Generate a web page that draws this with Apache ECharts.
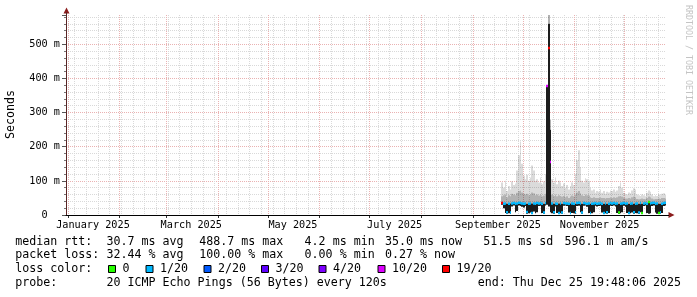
<!DOCTYPE html>
<html><head><meta charset="utf-8">
<script src="https://cdn.jsdelivr.net/npm/echarts@6/dist/echarts.min.js"></script>
<style>html,body{margin:0;padding:0;background:#fff}#c{width:697px;height:297px}</style>
</head><body><div id="c"></div>
<script>
// ---- data (one value per day, starting at firstDay) ----
const firstDay = '2025-09-18';
const minMs = [30,20,6,4,5,4,25,28,8,12,28,26,24,22,26,4,5,7,3,10,5,8,26,27,6,4,28,30,25,8,
  5,4,25,6,3,5,4,27,28,26,7,4,6,5,4,26,27,8,4,27,28,24,6,3,5,8,27,25,26,27,
  7,3,5,4,6,27,26,28,25,6,3,5,8,27,24,6,3,5,7,4,6,5,3,8,3,26,28,6,4,5,26,28,7,4,3,4,6,26,28];
const medianMs = [35,33,34,8,33,7,34,35,33,34,36,35,34,33,34,9,33,34,6,34,33,35,34,35,33,7,35,378,489,155,
  34,8,34,33,6,34,7,35,34,34,33,6,34,33,8,35,36,34,7,35,34,33,34,6,33,34,35,33,34,35,
  33,6,34,8,33,35,34,35,33,34,7,33,34,35,33,34,6,33,34,8,33,34,7,35,6,34,35,33,38,34,35,36,33,34,6,8,33,35,36];
const denseTopMs = [35,33,34,33,33,34,34,35,33,34,36,35,34,33,34,33,33,34,34,34,33,35,34,35,33,33,35,378,560,250,
  34,33,34,33,34,34,33,35,34,34,33,34,34,33,33,35,36,34,33,35,34,33,34,33,33,34,35,33,34,35,
  33,33,34,33,33,35,34,35,33,34,33,33,34,35,33,34,33,33,34,33,33,34,33,35,33,34,35,33,38,34,35,36,33,34,33,33,33,35,36];
const upperMs = [55,58,60,52,58,55,62,60,58,65,70,72,66,62,60,62,58,60,66,64,58,60,57,60,55,57,62,380,586,278,
  60,56,60,55,58,56,54,56,52,55,50,54,57,55,60,66,70,64,58,56,60,58,57,52,50,52,50,50,50,52,
  50,50,48,50,50,52,50,52,50,52,55,56,54,50,48,48,50,48,52,54,52,47,46,47,48,47,46,50,54,52,48,46,47,47,48,47,50,50,48];
const maxMs = [95,80,100,70,85,75,98,88,92,130,175,215,150,115,105,118,100,110,145,130,100,105,95,110,90,98,120,380,586,278,
  105,95,110,90,100,95,85,92,80,88,75,85,95,88,120,160,190,140,100,95,108,105,100,80,72,75,65,70,68,75,
  65,70,62,68,66,72,70,75,68,72,85,95,80,65,62,60,66,64,72,78,75,60,58,56,60,58,55,65,72,68,60,55,58,56,60,58,62,64,60];
const lossOf20 = [19,1,1,1,1,1,1,1,1,1,1,1,1,1,1,1,1,1,1,1,1,1,1,1,1,1,1,10,19,10,
  1,1,1,1,1,1,1,1,1,1,1,1,1,1,1,1,1,1,1,1,1,1,1,1,1,1,1,1,1,1,
  1,1,1,1,1,1,1,1,1,1,0,1,1,1,1,1,1,1,1,1,1,1,1,1,0,1,1,1,0,1,1,1,1,1,0,1,1,1,1];

const monthTickLabels = ['January 2025','March 2025','May 2025','July 2025','September 2025','November 2025'];
const lossLegendLabels = ['0','1/20','2/20','3/20','4/20','10/20','19/20'];
const lossLegendCounts = [0,1,2,3,4,10,19];
const lossLegendColors = ['#26ff00','#00b8ff','#0059ff','#5e00ff','#7e00ff','#dd00ff','#ff0000'];
const statsRtt = ['30.7 ms avg','488.7 ms max','4.2 ms min','35.0 ms now','51.5 ms sd','596.1 m am/s'];
const statsLoss = ['32.44 % avg','100.00 % max','0.00 % min','0.27 % now'];
const probeText = '20 ICMP Echo Pings (56 Bytes) every 120s';
const endText = 'end: Thu Dec 25 19:48:06 2025';
const yTitle = 'Seconds';

// ---- build ----
const DAY = 86400000;
const END = Date.UTC(2025,11,25,19,48,6);
const START = END - 360*DAY;
const t0 = Date.parse(firstDay + 'T12:00:00Z');
const smokeData = minMs.map((v,i)=>[t0+i*DAY, v, medianMs[i], denseTopMs[i], upperMs[i], maxMs[i], lossOf20[i]]);
function lossColor(n){ let c = lossLegendColors[0]; lossLegendCounts.forEach((k,j)=>{ if(n>=k) c=lossLegendColors[j]; }); return c; }

const weeks=[]; for(let t=Date.UTC(2025,0,5); t<=END; t+=7*DAY) weeks.push(t);
const months=[]; for(let m=0;m<12;m++) months.push(Date.UTC(2025,m,1));
const labelPos = monthTickLabels.map((s,i)=>Date.UTC(2025,i*2,16));

const MONO = '"DejaVu Sans Mono", monospace';
const LEG = '11.65px ' + MONO;
const minorGrid = {color:'#d9d9d9', type:[1,1], width:1};
const majorGrid = {color:'#eab2b2', type:[1,1], width:1};

const xBase = {type:'value', min:START, max:END, gridIndex:0, position:'bottom'};
const yBase = {type:'value', min:0, max:585.8, position:'left'};
const chart = echarts.init(document.getElementById('c'), null, {renderer:'canvas'});

const graphic = [];
function txt(x,y,s,extra){ graphic.push(Object.assign({type:'text', x:x, y:y, silent:true, style:{text:s, font:LEG, fill:'#000', textAlign:'left', textVerticalAlign:'middle', align:'left', verticalAlign:'middle'}}, extra||{})); }
const rowY=[241.8,255.3,268.9,282.5];
const statX=[106.5,199.2,304.6,384.9,483.2,564.5];
txt(15.2,rowY[0],'median rtt:');
statsRtt.forEach((s,i)=>txt(statX[i],rowY[0],s));
txt(15.2,rowY[1],'packet loss:');
statsLoss.forEach((s,i)=>txt(statX[i],rowY[1],s));
txt(15.2,rowY[2],'loss color:');
const boxX=[108.5,146,204,261.5,319,378,442.5];
lossLegendLabels.forEach((s,i)=>{
  graphic.push({type:'rect', silent:true, shape:{x:boxX[i], y:265.5, width:7, height:7}, style:{fill:lossLegendColors[i], stroke:'#000', lineWidth:1}});
  txt(boxX[i]+14,rowY[2],s);
});
txt(15.2,rowY[3],'probe:');
txt(106.5,rowY[3],probeText);
graphic.push({type:'text', x:681, y:rowY[3], silent:true, style:{text:endText, font:LEG, fill:'#000', textAlign:'right', align:'right', textVerticalAlign:'middle', verticalAlign:'middle'}});
// y-axis title
graphic.push({type:'text', x:11, y:114.5, rotation:Math.PI/2, silent:true, style:{text:yTitle, font:LEG, fill:'#000', textAlign:'center', align:'center', textVerticalAlign:'middle', verticalAlign:'middle'}});
// watermark
graphic.push({type:'text', x:688, y:5, rotation:-Math.PI/2, silent:true, style:{text:'RRDTOOL / TOBI OETIKER', font:'8.3px '+MONO, fill:'#c4c4c4', textAlign:'left', align:'left', textVerticalAlign:'middle', verticalAlign:'middle'}});
// axis arrows
graphic.push({type:'polygon', silent:true, z:10, shape:{points:[[63.5,13.5],[69.5,13.5],[66.5,7.5]]}, style:{fill:'#8b1c1c'}});
graphic.push({type:'polygon', silent:true, z:10, shape:{points:[[668.5,212],[668.5,218],[674.5,215]]}, style:{fill:'#8b1c1c'}});
graphic.push({type:'line', silent:true, z:10, shape:{x1:66.5,y1:15,x2:66.5,y2:12}, style:{stroke:'#5a2525', lineWidth:1}});
graphic.push({type:'line', silent:true, z:10, shape:{x1:666,y1:215.5,x2:669,y2:215.5}, style:{stroke:'#000', lineWidth:1}});

const option = {
  backgroundColor:'#fff',
  animation:false,
  grid:{left:66, top:15, width:600, height:200, containLabel:false, outerBoundsMode:'none'},
  xAxis:[
    Object.assign({}, xBase, {axisLine:{show:false}, axisTick:{show:false, customValues:weeks}, axisLabel:{show:false}, splitLine:{show:true, lineStyle:minorGrid}}),
    Object.assign({}, xBase, {axisLine:{show:false}, axisTick:{show:true, length:3, customValues:months, lineStyle:{color:'#333'}}, axisLabel:{show:false}, splitLine:{show:true, lineStyle:majorGrid}}),
    Object.assign({}, xBase, {z:6, axisLine:{show:true, onZero:false, lineStyle:{color:'#000', width:1}}, axisTick:{show:false, customValues:labelPos}, splitLine:{show:false},
      axisLabel:{show:true, customValues:labelPos, margin:5, color:'#000', fontFamily:MONO, fontSize:10.2,
        formatter:(v)=>{ const i=labelPos.indexOf(v); return i>=0?monthTickLabels[i]:''; }}})
  ],
  yAxis:[
    Object.assign({}, yBase, {interval:20, axisLine:{show:false}, axisTick:{show:true, length:2, lineStyle:{color:'#777'}}, axisLabel:{show:false}, splitLine:{show:true, showMinLine:false, showMaxLine:false, lineStyle:minorGrid}}),
    Object.assign({}, yBase, {interval:100, axisLine:{show:false}, axisTick:{show:true, length:4, lineStyle:{color:'#555'}},
      splitLine:{show:true, showMinLine:false, showMaxLine:false, lineStyle:majorGrid},
      axisLabel:{show:true, margin:6, color:'#000', fontFamily:MONO, fontSize:10.2, formatter:(v)=> v===0?'0  ':(v%100===0? v+' m':'')}}),
    Object.assign({}, yBase, {z:6, interval:100, axisLine:{show:true, onZero:false, lineStyle:{color:'#5a2525'}}, axisTick:{show:false}, axisLabel:{show:false}, splitLine:{show:false}})
  ],
  series:[{
    type:'custom', xAxisIndex:0, yAxisIndex:0, clip:true, z:2,
    encode:{x:0, y:[1,2,3,4,5]},
    data:smokeData,
    renderItem:(params, api)=>{
      const t=api.value(0);
      const w=api.size([DAY,0])[0];
      const cx=api.coord([t,0])[0];
      const xa=Math.round(cx-w/2), xb=Math.round(cx+w/2);
      const Y=v=>api.coord([t,v])[1];
      const band=(lo,hi,color)=>({type:'rect', shape:{x:xa, y:Y(hi), width:xb-xa, height:Math.max(0,Y(lo)-Y(hi))}, style:{fill:color}});
      const med=api.value(2);
      return {type:'group', children:[
        band(api.value(4), api.value(5), 'rgba(0,0,0,0.14)'),
        band(api.value(3), api.value(4), 'rgba(0,0,0,0.30)'),
        band(api.value(1), api.value(3), '#1c1c1c'),
        {type:'rect', shape:{x:xa, y:Y(med)-1.25, width:xb-xa, height:2.5}, style:{fill:lossColor(api.value(6))}}
      ]};
    }
  }],
  graphic: graphic
};
chart.setOption(option);
</script></body></html>
